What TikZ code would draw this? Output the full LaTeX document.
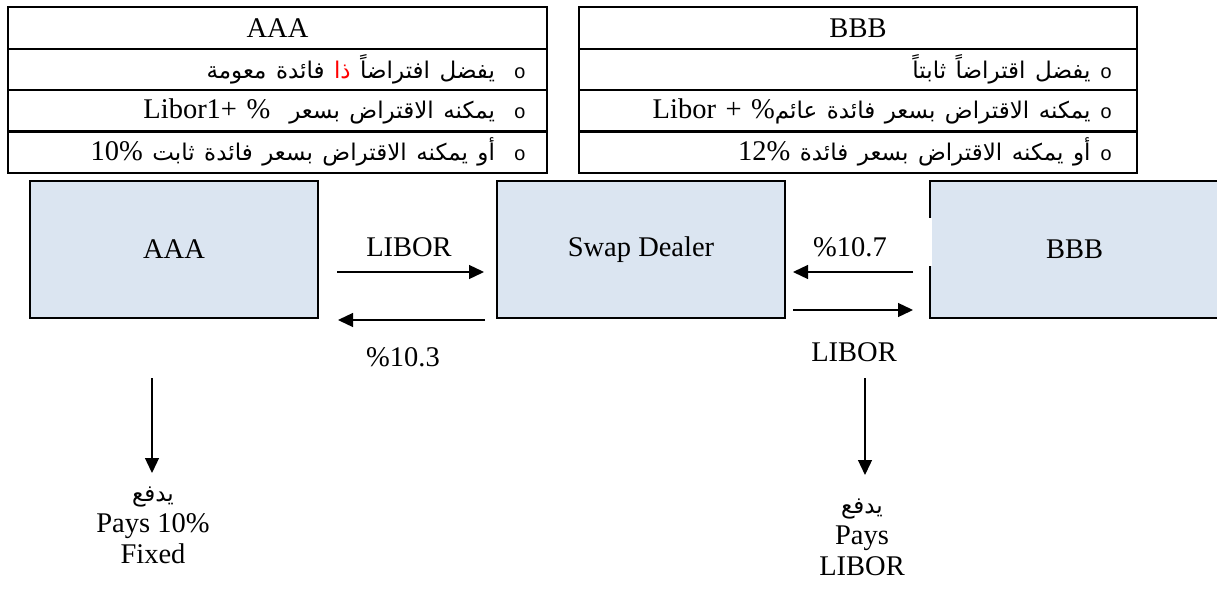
\documentclass[tikz,border=0pt]{standalone}
\usepackage{fontspec}
\setmainfont{Liberation Serif}
\newfontfamily\arabicfont[Script=Arabic]{DejaVu Sans}
\newfontfamily\bulletfont{Liberation Mono}
\TeXXeTstate=1
\usetikzlibrary{arrows.meta}
\definecolor{partyblue}{RGB}{219,229,241}
\newcommand{\bigtxt}{\fontsize{28.5}{31}\selectfont}
\newcommand{\arbtxt}{\arabicfont\fontsize{23}{27}\selectfont}
\newcommand{\bul}{{\bulletfont\fontsize{20}{24}\selectfont o}}

\begin{document}
\begin{tikzpicture}[
  x=1pt,y=-1pt,
  font=\bigtxt,
  cell/.style={draw,line width=1.6pt,minimum height=41.5pt,inner sep=0pt},
  lcell/.style={cell,minimum width=539pt},
  rcell/.style={cell,minimum width=558pt},
  lrow/.style={lcell,text width=497pt,inner xsep=21pt,align=right},
  rrow/.style={rcell,text width=508pt,inner xsep=25pt,align=right},
  party/.style={draw,fill=partyblue,line width=1.3pt,minimum height=137pt,
    minimum width=288pt,inner sep=0pt},
  arrow/.style={-{Triangle[length=15pt,width=14pt]},line width=1.3pt},
  flowlbl/.style={inner sep=0pt}
]
  \clip (0,0) rectangle (1217,602);

  % tables
  \node[lcell] (aaahead) at (277.5,28) {AAA};
  \node[lrow] (aaarow1) at (277.5,69.5)
    {{\arbtxt\beginR فائدة معومة\endR}\ {\arbtxt\color{red}\beginR ذا\endR}\
     {\arbtxt\beginR يفضل افتراضاً\endR}\ \ \bul};
  \node[lrow] (aaarow2) at (277.5,111)
    {Libor1+ \%\ \ {\arbtxt\beginR يمكنه الاقتراض بسعر\endR}\ \ \bul};
  \node[lrow] (aaarow3) at (277.5,152)
    {10\%\ {\arbtxt\beginR أو يمكنه الاقتراض بسعر فائدة ثابت\endR}\ \ \bul};

  \node[rcell] (bbbhead) at (858,28) {BBB};
  \node[rrow] (bbbrow1) at (858,69.5)
    {{\arbtxt\beginR يفضل اقتراضاً ثابتاً\endR}\ \bul};
  \node[rrow] (bbbrow2) at (858,111)
    {Libor + \%{\arbtxt\beginR يمكنه الاقتراض بسعر فائدة عائم\endR}\ \bul};
  \node[rrow] (bbbrow3) at (858,152)
    {12\%\ {\arbtxt\beginR أو يمكنه الاقتراض بسعر فائدة\endR}\ \bul};

  % parties
  \node[party] (aaa) at (174,249.5) {AAA};
  \node[party] (dealer) at (641,249.5) {Swap Dealer};
  \node[party,minimum width=289pt] (bbb) at (1074.5,249.5) {BBB};
  \fill[white] (926,218) rectangle (932,266);

  % arrow ends
  \coordinate (a1s) at (337,272);
  \coordinate (a1e) at (484,272);
  \coordinate (a2s) at (485,320);
  \coordinate (a2e) at (338,320);
  \coordinate (b1s) at (913,272);
  \coordinate (b1e) at (793,272);
  \coordinate (b2s) at (793,310);
  \coordinate (b2e) at (913,310);
  \coordinate (pa) at (152,378);
  \coordinate (pae) at (152,473);
  \coordinate (pb) at (865,378);
  \coordinate (pbe) at (865,475);

  \node[flowlbl] (lib1) at (409,247) {LIBOR};
  \node[flowlbl] (fix1) at (403,357) {\%10.3};
  \node[flowlbl] (fix2) at (850,247) {\%10.7};
  \node[flowlbl] (lib2) at (854,352) {LIBOR};

  \draw[arrow] (a1s) -- (a1e);
  \draw[arrow] (a2s) -- (a2e);
  \draw[arrow] (b1s) -- (b1e);
  \draw[arrow] (b2s) -- (b2e);
  \draw[arrow] (pa) -- (pae);
  \draw[arrow] (pb) -- (pbe);

  \node[flowlbl,align=center,anchor=north] (paya) at (153,487)
    {{\arbtxt\beginR يدفع\endR}\\Pays 10\%\\Fixed};
  \node[flowlbl,align=center,anchor=north] (payb) at (862,499)
    {{\arbtxt\beginR يدفع\endR}\\Pays\\LIBOR};
\end{tikzpicture}
\end{document}
